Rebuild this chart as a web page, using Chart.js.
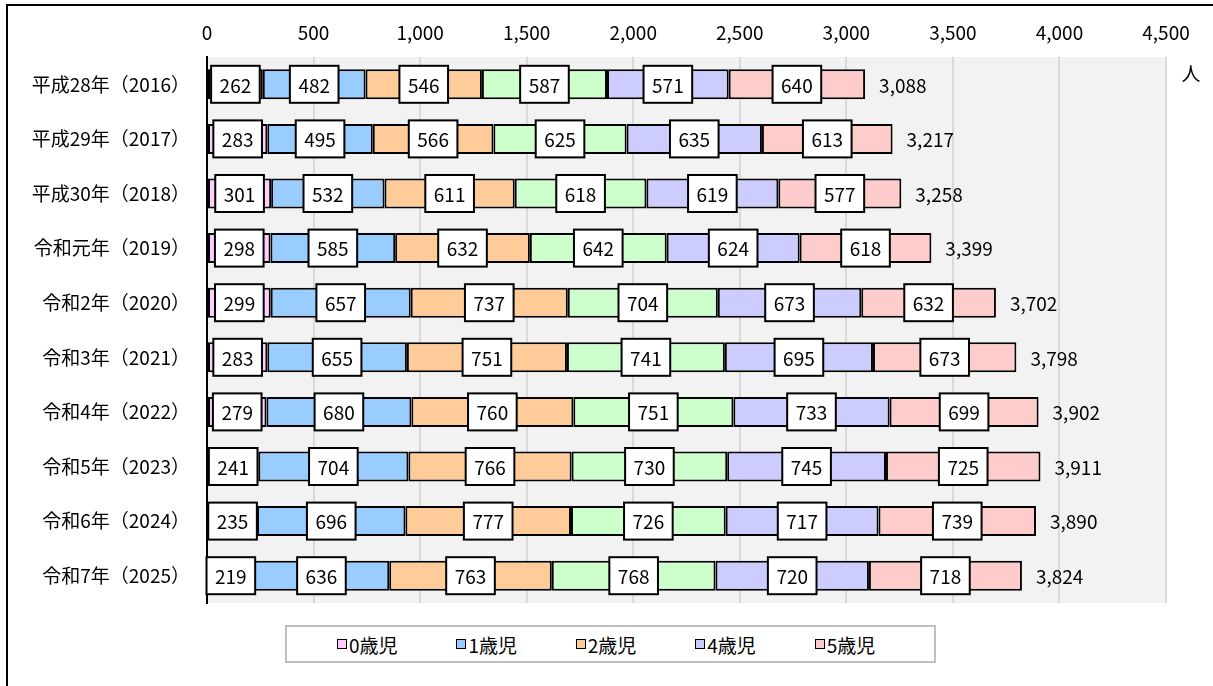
<!DOCTYPE html>
<html lang="ja">
<head>
<meta charset="utf-8">
<script src="https://cdn.jsdelivr.net/npm/chart.js@4/dist/chart.umd.min.js"></script>
<style>
  html, body { margin: 0; padding: 0; background: #fff; overflow: hidden; }
  body { width: 1213px; height: 686px; position: relative; font-family: "Noto Sans CJK JP", sans-serif; }
  #frame { position: absolute; left: 6px; top: 4px; width: 1300px; height: 800px; border: 2px solid #000; }
  #wrap { position: absolute; left: 0; top: 0; width: 1213px; height: 686px; }
  #legend {
    position: absolute; left: 285px; top: 625px; width: 597px; height: 34px; padding-left: 50px;
    border: 2px solid #bfbfbf; display: flex; justify-content: flex-start; align-items: center;
    font-size: 19px; color: #000; background: #fff;
  }
  .item { display: flex; align-items: center; width: 121px; }
  .sw { width: 8px; height: 8px; border: 1.5px solid #000; margin-right: 2px; }
</style>
</head>
<body>
<div id="frame"></div>
<div id="wrap"><canvas id="ageChart" width="1213" height="686"></canvas></div>
<div id="legend"></div>
<script>
/* ================== DATA ================== */
const categories = [
  "平成28年（2016）", "平成29年（2017）", "平成30年（2018）", "令和元年（2019）",
  "令和2年（2020）", "令和3年（2021）", "令和4年（2022）", "令和5年（2023）",
  "令和6年（2024）", "令和7年（2025）"
];
const age0 = [262, 283, 301, 298, 299, 283, 279, 241, 235, 219];
const age1 = [482, 495, 532, 585, 657, 655, 680, 704, 696, 636];
const age2 = [546, 566, 611, 632, 737, 751, 760, 766, 777, 763];
const age3 = [587, 625, 618, 642, 704, 741, 751, 730, 726, 768];
const age4 = [571, 635, 619, 624, 673, 695, 733, 745, 717, 720];
const age5 = [640, 613, 577, 618, 632, 673, 699, 725, 739, 718];
const totals = [3088, 3217, 3258, 3399, 3702, 3798, 3902, 3911, 3890, 3824];

const seriesNames = ["0歳児", "1歳児", "2歳児", "3歳児", "4歳児", "5歳児"];
const seriesColors = ["#ffccff", "#99ccff", "#ffcc99", "#ccffcc", "#ccccff", "#ffcccc"];
const legendShown = ["0歳児", "1歳児", "2歳児", "4歳児", "5歳児"];
const unitLabel = "人";

const FONT = '"Noto Sans CJK JP", sans-serif';

/* ================== PLUGINS ================== */
const plotBg = {
  id: "plotBg",
  beforeDraw(chart) {
    const a = chart.chartArea, ctx = chart.ctx;
    ctx.save();
    ctx.fillStyle = "#f2f2f2";
    ctx.fillRect(a.left, a.top, a.right - a.left, a.bottom - a.top);
    ctx.restore();
  }
};

const boxLabels = {
  id: "boxLabels",
  afterDatasetsDraw(chart) {
    const ctx = chart.ctx;
    ctx.save();
    ctx.font = "19px " + FONT;
    ctx.textAlign = "center";
    ctx.textBaseline = "middle";
    chart.data.datasets.forEach((ds, di) => {
      const meta = chart.getDatasetMeta(di);
      meta.data.forEach((bar, i) => {
        const cx = (bar.x + bar.base) / 2;
        const txt = String(ds.data[i]);
        const w = ctx.measureText(txt).width + 17;
        const h = 37;
        ctx.fillStyle = "#fff";
        ctx.fillRect(cx - w / 2, bar.y - h / 2, w, h);
        ctx.lineWidth = 2;
        ctx.strokeStyle = "#000";
        ctx.strokeRect(cx - w / 2, bar.y - h / 2, w, h);
        ctx.fillStyle = "#000";
        ctx.fillText(txt, cx, bar.y + 1);
      });
    });
    // totals
    const last = chart.getDatasetMeta(chart.data.datasets.length - 1);
    ctx.textAlign = "left";
    last.data.forEach((bar, i) => {
      ctx.fillText(totals[i].toLocaleString("en-US"), bar.x + 14, bar.y + 1);
    });
    // unit
    ctx.textAlign = "center";
    ctx.fillText(unitLabel, 1191, 74);
    ctx.restore();
  }
};

/* ================== CHART ================== */
const seriesData = [age0, age1, age2, age3, age4, age5];

new Chart(document.getElementById("ageChart"), {
  type: "bar",
  data: {
    labels: categories,
    datasets: seriesData.map((d, i) => ({
      label: seriesNames[i],
      data: d,
      backgroundColor: seriesColors[i],
      borderColor: "#000",
      borderWidth: 2,
      borderSkipped: false,
      barPercentage: 0.55,
      categoryPercentage: 1
    }))
  },
  options: {
    indexAxis: "y",
    responsive: false,
    animation: false,
    layout: { padding: { left: 0, right: 47, top: 0, bottom: 83 } },
    plugins: {
      legend: { display: false },
      tooltip: { enabled: false }
    },
    scales: {
      x: {
        position: "top",
        stacked: true,
        min: 0,
        max: 4500,
        ticks: {
          stepSize: 500,
          padding: 13,
          color: "#000",
          font: { size: 19, family: FONT },
          callback: v => v.toLocaleString("en-US")
        },
        grid: { color: "#d9d9d9", lineWidth: 2, drawTicks: false },
        border: { display: false },
        afterFit: s => { s.height = 57; }
      },
      y: {
        stacked: true,
        ticks: {
          padding: 17,
          color: "#000",
          font: { size: 19, family: FONT }
        },
        grid: { display: false, drawTicks: false },
        border: { display: true, color: "#000", width: 2 },
        afterFit: s => { s.width = 207; }
      }
    }
  },
  plugins: [plotBg, boxLabels]
});

/* ================== LEGEND ================== */
const legendEl = document.getElementById("legend");
legendShown.forEach(name => {
  const i = seriesNames.indexOf(name);
  const item = document.createElement("div");
  item.className = "item";
  const sw = document.createElement("span");
  sw.className = "sw";
  sw.style.background = seriesColors[i];
  const t = document.createElement("span");
  t.textContent = name;
  item.appendChild(sw);
  item.appendChild(t);
  legendEl.appendChild(item);
});
</script>
</body>
</html>
